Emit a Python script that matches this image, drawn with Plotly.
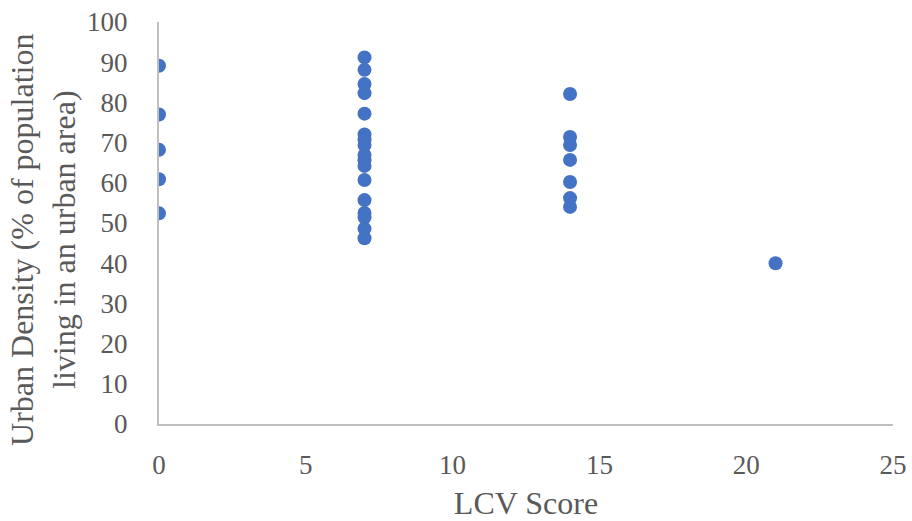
import plotly.graph_objects as go

# LCV score (x) and urban density (% of population in urban areas) per country
lcv_score = [0, 0, 0, 0, 0,
             7, 7, 7, 7, 7, 7, 7, 7, 7, 7, 7, 7, 7, 7, 7, 7, 7,
             14, 14, 14, 14, 14, 14, 14,
             21]
urban_density = [89.1, 77.0, 68.2, 60.9, 52.4,
                 91.2, 88.1, 84.6, 82.3, 77.2, 72.0, 70.8, 69.4, 66.9, 65.6, 64.2,
                 60.7, 55.7, 52.5, 51.4, 48.6, 46.2,
                 82.1, 71.4, 69.4, 65.7, 60.2, 56.2, 54.0,
                 40.0]

x_ticks = [0, 5, 10, 15, 20, 25]
y_ticks = [0, 10, 20, 30, 40, 50, 60, 70, 80, 90, 100]

font_family = "Liberation Serif, Times New Roman, serif"
text_color = "#595959"
axis_color = "#bfbfbf"

fig = go.Figure(
    go.Scatter(
        x=lcv_score,
        y=urban_density,
        mode="markers",
        marker=dict(size=14, color="#4472C4"),
        showlegend=False,
    )
)

fig.update_layout(
    width=912,
    height=521,
    margin=dict(l=159, r=19, t=22, b=97),
    paper_bgcolor="white",
    plot_bgcolor="white",
    font=dict(family=font_family, size=27, color=text_color),
)

fig.update_xaxes(
    range=[0, 25],
    tickvals=x_ticks,
    showgrid=False,
    zeroline=False,
    showline=True,
    linecolor=axis_color,
    linewidth=2,
    ticks="",
    ticklabelstandoff=16,
    automargin=False,
    title=dict(text="LCV Score", font=dict(size=32, color=text_color), standoff=12),
)

fig.update_yaxes(
    range=[0, 100],
    tickvals=y_ticks,
    showgrid=False,
    zeroline=False,
    showline=True,
    linecolor=axis_color,
    linewidth=2,
    ticks="",
    ticklabelstandoff=24,
    automargin=False,
)

# Vertical axis title, placed as a rotated annotation beside the tick labels
fig.add_annotation(
    text="Urban Density (% of population<br>living in an urban area)",
    xref="paper", yref="paper",
    x=-0.158, y=0.458,
    xanchor="center", yanchor="middle",
    textangle=-90,
    showarrow=False,
    font=dict(family=font_family, size=32, color=text_color),
)

fig.write_html("out.html")
